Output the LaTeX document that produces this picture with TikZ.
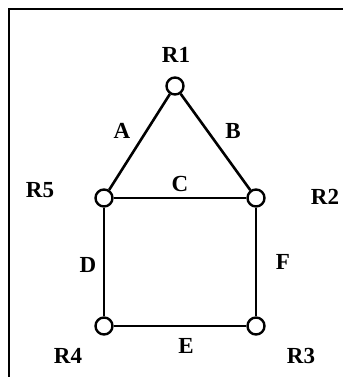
\documentclass[tikz,border=0pt]{standalone}
\usepackage{fontspec}
\setmainfont{Liberation Serif}
\usepackage{tikz}

\tikzset{
  router/.style={circle, draw, fill=white, line width=2.4pt, minimum size=17pt, inner sep=0pt},
  lbl/.style={font=\fontsize{23}{25}\selectfont\bfseries, inner sep=0pt}
}

\begin{document}
\begin{tikzpicture}[x=1pt, y=-1pt, line width=2.6pt]
  \useasboundingbox (0,0) rectangle (353,377);
  % frame
  \coordinate (fb) at (9,377);
  \coordinate (fc) at (9,9);
  \coordinate (fe) at (343,9);
  \draw (fb) -- (fc) -- (fe);

  % routers
  \node[router] (r1) at (175,86) {};
  \node[router] (r5) at (104,198) {};
  \node[router] (r2) at (256,198) {};
  \node[router] (r4) at (104,326) {};
  \node[router] (r3) at (256,326) {};

  % links
  \draw (r1) -- (r5);
  \draw (r1) -- (r2);
  \draw (r5) -- (r2);
  \draw (r5) -- (r4);
  \draw (r2) -- (r3);
  \draw (r4) -- (r3);

  % router names
  \node[lbl] (n1) at (176,55) {R1};
  \node[lbl] (n5) at (40,190) {R5};
  \node[lbl] (n2) at (325,197) {R2};
  \node[lbl] (n4) at (68,356) {R4};
  \node[lbl] (n3) at (301,356) {R3};

  % link names
  \node[lbl] (la) at (122,131) {A};
  \node[lbl] (lb) at (233,131) {B};
  \node[lbl] (lc) at (180,184) {C};
  \node[lbl] (ld) at (88,265) {D};
  \node[lbl] (le) at (186,346) {E};
  \node[lbl] (lf) at (283,262) {F};
\end{tikzpicture}
\end{document}
